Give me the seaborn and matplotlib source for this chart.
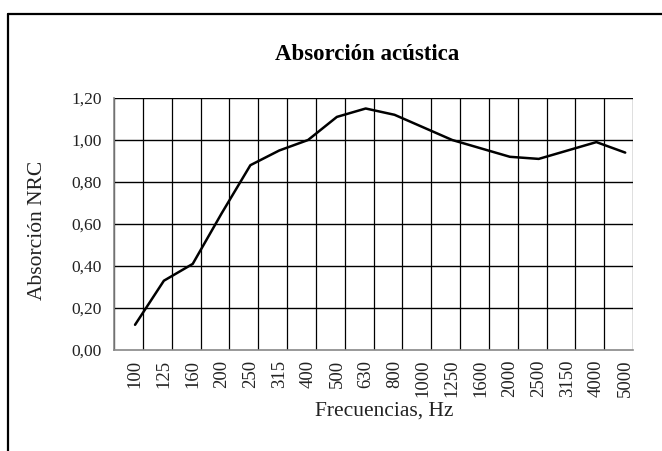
import numpy as np
import matplotlib
matplotlib.use("Agg")
import matplotlib.pyplot as plt
import seaborn as sns

# Data
frecuencias = ["100", "125", "160", "200", "250", "315", "400", "500", "630",
               "800", "1000", "1250", "1600", "2000", "2500", "3150", "4000", "5000"]
absorcion = [0.12, 0.33, 0.41, 0.65, 0.88, 0.95, 1.00, 1.11, 1.15,
             1.12, 1.06, 1.00, 0.96, 0.92, 0.91, 0.95, 0.99, 0.94]
y_ticks = [0.0, 0.2, 0.4, 0.6, 0.8, 1.0, 1.2]

sns.set_theme(style="white")
plt.rcParams["font.family"] = ["Liberation Serif", "DejaVu Serif"]

fig = plt.figure(figsize=(6.62, 4.51), dpi=100)
ax = fig.add_axes([114 / 662, 1 - 350 / 451, (633 - 114) / 662, (350 - 98) / 451])

pos = np.arange(len(frecuencias))
off = 0.73  # points sit a bit right of the category centre, as in the original

# ----------------------------
# grid (drawn by hand to sit between categories)
# ----------------------------
for k in range(len(frecuencias) + 1):
    ax.axvline(k - off, color="black", lw=0.9, zorder=1)
for y in y_ticks[1:]:
    ax.axhline(y, color="black", lw=1.0, zorder=1)

sns.lineplot(x=pos, y=absorcion, ax=ax, color="black", lw=1.8, zorder=3)

ax.set_xlim(-off, len(frecuencias) - off)
ax.set_ylim(0, 1.2)
ax.set_xticks(pos)
ax.set_xticklabels(frecuencias, rotation=90, fontsize=13.5)
ax.set_yticks(y_ticks)
ax.set_yticklabels([f"{v:.2f}".replace(".", ",") for v in y_ticks], fontsize=12.5)
ax.tick_params(axis="both", length=0, pad=7, colors="#222222")
ax.tick_params(axis="y", pad=9)

for side in ["top", "right"]:
    ax.spines[side].set_visible(False)
for side in ["left", "bottom"]:
    ax.spines[side].set_color("#888888")
    ax.spines[side].set_linewidth(1.2)

ax.set_xlabel("")
ax.set_ylabel("")

# ----------------------------
# texts and outer frame
# ----------------------------
fig.text(367 / 662, 1 - 55 / 451, "Absorción acústica", ha="center", va="center",
         fontsize=16.5, fontweight="bold", color="black")
fig.text(384 / 662, 1 - 411 / 451, "Frecuencias, Hz", ha="center", va="center",
         fontsize=15.5, color="#222222")
fig.text(37 / 662, 1 - 230 / 451, "Absorción NRC", ha="center", va="center",
         rotation=90, fontsize=15.5, color="#222222")

fig.add_artist(plt.Line2D([7.5 / 662, 7.5 / 662], [0, 1 - 14 / 451],
                          transform=fig.transFigure, color="black", lw=1.6))
fig.add_artist(plt.Line2D([7.5 / 662, 1], [1 - 14 / 451, 1 - 14 / 451],
                          transform=fig.transFigure, color="black", lw=1.6))

fig.savefig("out.png", dpi=100)
